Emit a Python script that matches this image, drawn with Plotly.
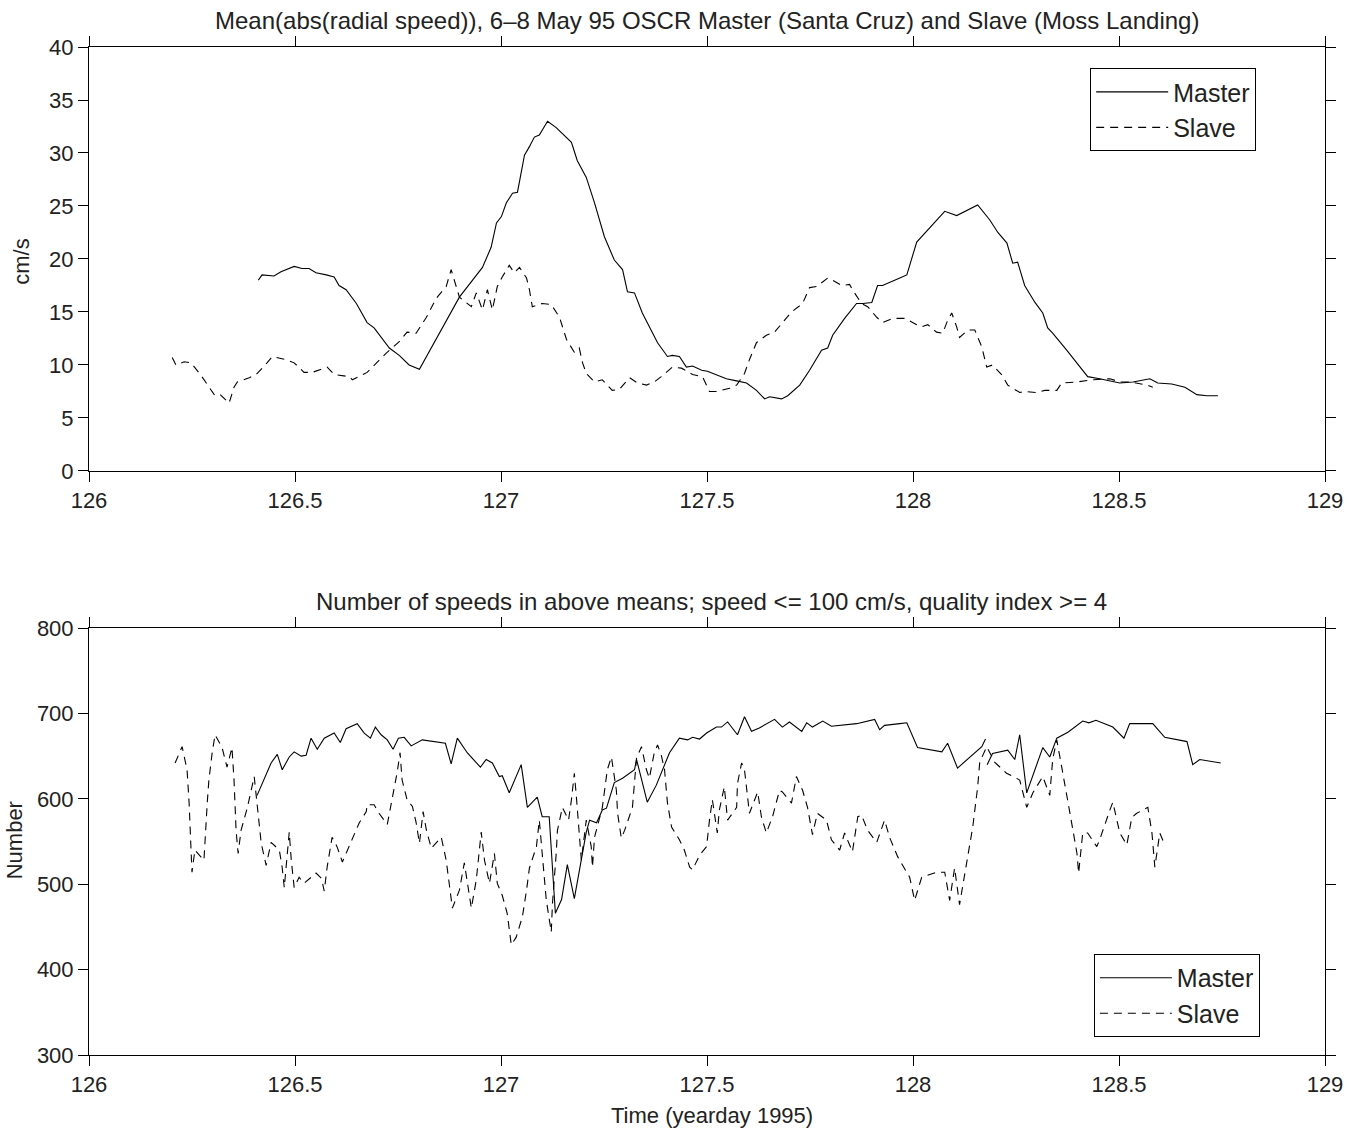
import plotly.graph_objects as go
from plotly.subplots import make_subplots

# ---- Top panel: mean |radial speed| (cm/s) ----
top_master_t = [126.411, 126.420, 126.449, 126.466, 126.498, 126.517, 126.534, 126.551, 126.576, 126.595,
                126.607, 126.624, 126.649, 126.675, 126.692, 126.712, 126.729, 126.753, 126.777, 126.802,
                126.899, 126.955, 126.976, 126.989, 127.001, 127.013, 127.028, 127.040, 127.057, 127.069,
                127.081, 127.093, 127.105, 127.113, 127.134, 127.159, 127.171, 127.185, 127.207, 127.227,
                127.251, 127.275, 127.295, 127.307, 127.324, 127.343, 127.368, 127.380, 127.404, 127.416,
                127.433, 127.450, 127.465, 127.487, 127.501, 127.513, 127.547, 127.572, 127.596, 127.620,
                127.640, 127.652, 127.681, 127.696, 127.725, 127.749, 127.778, 127.793, 127.805, 127.834,
                127.863, 127.878, 127.900, 127.914, 127.926, 127.968, 127.985, 128.009, 128.040, 128.077,
                128.106, 128.157, 128.186, 128.206, 128.228, 128.242, 128.254, 128.271, 128.296, 128.315,
                128.327, 128.339, 128.373, 128.405, 128.424, 128.453, 128.502, 128.534, 128.575, 128.594,
                128.628, 128.660, 128.689, 128.713, 128.740]
top_master_v = [18.0, 18.5, 18.4, 18.8, 19.3, 19.1, 19.1, 18.7, 18.5, 18.3,
                17.5, 17.1, 15.8, 14.0, 13.5, 12.5, 11.6, 10.9, 10.0, 9.6,
                16.4, 19.2, 21.1, 23.4, 24.0, 25.3, 26.2, 26.3, 29.8, 30.6,
                31.5, 31.7, 32.5, 33.0, 32.4, 31.5, 31.0, 29.3, 27.7, 25.3,
                22.1, 19.9, 19.0, 16.9, 16.8, 14.9, 13.0, 12.1, 10.8, 10.9,
                10.8, 9.8, 9.9, 9.5, 9.4, 9.2, 8.7, 8.5, 8.3, 7.6,
                6.8, 7.0, 6.8, 7.1, 8.1, 9.5, 11.4, 11.6, 12.8, 14.4,
                15.8, 15.8, 15.9, 17.5, 17.5, 18.2, 18.5, 21.6, 22.9, 24.5,
                24.1, 25.1, 23.7, 22.5, 21.5, 19.6, 19.7, 17.5, 15.9, 14.9,
                13.5, 13.0, 11.4, 9.8, 8.9, 8.7, 8.3, 8.4, 8.7, 8.3,
                8.2, 7.9, 7.2, 7.1, 7.1]

top_slave_t = [126.202, 126.211, 126.231, 126.248, 126.274, 126.284, 126.304, 126.316, 126.340, 126.352,
               126.360, 126.389, 126.406, 126.432, 126.445, 126.479, 126.498, 126.522, 126.542, 126.578,
               126.595, 126.632, 126.639, 126.675, 126.692, 126.721, 126.753, 126.772, 126.794, 126.819,
               126.843, 126.867, 126.879, 126.899, 126.928, 126.940, 126.955, 126.967, 126.979, 126.991,
               127.003, 127.020, 127.032, 127.045, 127.062, 127.069, 127.076, 127.100, 127.122, 127.142,
               127.159, 127.178, 127.190, 127.198, 127.207, 127.227, 127.246, 127.270, 127.287, 127.312,
               127.331, 127.353, 127.372, 127.389, 127.416, 127.438, 127.465, 127.489, 127.506, 127.523,
               127.555, 127.572, 127.591, 127.603, 127.620, 127.644, 127.664, 127.688, 127.705, 127.732,
               127.749, 127.766, 127.793, 127.805, 127.827, 127.846, 127.853, 127.875, 127.890, 127.912,
               127.926, 127.951, 127.980, 128.009, 128.021, 128.036, 128.057, 128.072, 128.084, 128.094,
               128.106, 128.113, 128.133, 128.150, 128.167, 128.179, 128.193, 128.215, 128.230, 128.259,
               128.271, 128.300, 128.320, 128.349, 128.361, 128.398, 128.436, 128.478, 128.502, 128.526,
               128.568, 128.582]
top_slave_v = [10.7, 10.0, 10.3, 10.2, 8.9, 8.3, 7.2, 7.3, 6.4, 7.9,
               8.4, 8.8, 9.1, 10.2, 10.8, 10.5, 10.2, 9.3, 9.3, 9.8,
               9.1, 8.9, 8.6, 9.3, 10.0, 11.1, 12.2, 13.1, 13.0, 14.5,
               16.3, 17.4, 19.0, 16.4, 15.5, 16.8, 15.2, 17.1, 15.2, 17.4,
               18.3, 19.4, 18.7, 19.2, 18.2, 17.1, 15.5, 15.8, 15.7, 14.5,
               12.4, 11.2, 11.6, 10.2, 9.2, 8.4, 8.6, 7.6, 7.7, 8.8,
               8.3, 8.1, 8.4, 8.9, 9.8, 9.7, 9.1, 8.9, 7.5, 7.5,
               7.8, 8.1, 9.2, 10.5, 12.1, 12.8, 13.1, 14.2, 15.0, 15.8,
               17.3, 17.4, 18.2, 18.0, 17.5, 17.6, 17.1, 15.8, 15.5, 14.5,
               14.0, 14.4, 14.4, 13.8, 13.6, 13.8, 13.1, 13.0, 14.2, 14.9,
               13.6, 12.6, 13.3, 13.3, 11.7, 9.8, 10.0, 9.1, 8.1, 7.4,
               7.5, 7.4, 7.6, 7.6, 8.3, 8.4, 8.6, 8.7, 8.4, 8.4,
               8.1, 7.9]

# ---- Bottom panel: number of speeds ----
bot_master_t = [126.408, 126.430, 126.442, 126.457, 126.469, 126.486, 126.498, 126.515, 126.527, 126.539,
                126.554, 126.571, 126.595, 126.610, 126.624, 126.651, 126.668, 126.683, 126.695, 126.709,
                126.724, 126.738, 126.751, 126.765, 126.782, 126.809, 126.865, 126.879, 126.894, 126.918,
                126.950, 126.964, 126.979, 126.996, 127.003, 127.020, 127.049, 127.064, 127.088, 127.100,
                127.117, 127.132, 127.147, 127.161, 127.178, 127.207, 127.215, 127.232, 127.246, 127.256,
                127.275, 127.295, 127.324, 127.329, 127.355, 127.377, 127.409, 127.433, 127.453, 127.465,
                127.482, 127.499, 127.523, 127.535, 127.550, 127.574, 127.591, 127.608, 127.627, 127.664,
                127.683, 127.700, 127.730, 127.742, 127.756, 127.781, 127.802, 127.863, 127.907, 127.919,
                127.931, 127.968, 127.985, 128.011, 128.070, 128.084, 128.108, 128.167, 128.176, None,
                128.180, 128.193, 128.230, 128.247, 128.259, 128.276, 128.315, 128.332, 128.349, 128.376,
                128.412, 128.427, 128.444, 128.485, 128.512, 128.526, 128.582, 128.611, 128.665, 128.679,
                128.696, 128.747]
bot_master_v = [604, 628, 642, 652, 634, 649, 655, 650, 651, 671,
                658, 671, 677, 666, 682, 688, 677, 671, 684, 675,
                669, 658, 671, 672, 662, 669, 665, 641, 671, 654,
                637, 646, 642, 626, 627, 607, 640, 590, 602, 579,
                579, 466, 482, 523, 483, 561, 575, 572, 587, 589,
                619, 624, 634, 646, 596, 616, 654, 671, 669, 672,
                670, 677, 684, 684, 690, 675, 696, 679, 683, 693,
                684, 690, 679, 689, 684, 691, 685, 688, 693, 681,
                686, 688, 689, 660, 655, 665, 636, 661, 670, None,
                640, 653, 657, 646, 675, 607, 660, 649, 671, 678,
                691, 689, 692, 684, 671, 688, 688, 672, 667, 640,
                646, 642]

bot_slave_t = [126.209, 126.226, 126.238, 126.243, 126.248, 126.250, 126.257, 126.279, 126.287, 126.291,
               126.299, 126.306, 126.323, 126.335, 126.347, 126.352, 126.357, 126.362, 126.369, 126.384,
               126.401, 126.408, 126.418, 126.430, 126.442, 126.462, 126.469, 126.474, 126.486, 126.491,
               126.498, 126.510, 126.522, 126.551, 126.564, 126.571, 126.578, 126.590, 126.602, 126.615,
               126.644, 126.656, 126.673, 126.675, 126.692, 126.704, 126.724, 126.736, 126.748, 126.755,
               126.760, 126.772, 126.785, 126.794, 126.802, 126.811, 126.819, 126.831, 126.855, 126.867,
               126.874, 126.882, 126.899, 126.911, 126.928, 126.940, 126.952, 126.960, 126.972, 126.984,
               126.991, 127.003, 127.015, 127.025, 127.037, 127.052, 127.062, 127.069, 127.086, 127.093,
               127.100, 127.110, 127.122, 127.125, 127.134, 127.137, 127.149, 127.164, 127.171, 127.178,
               127.183, 127.190, 127.195, 127.207, 127.219, 127.222, 127.227, 127.246, 127.258, 127.268,
               127.280, 127.283, 127.292, 127.300, 127.319, 127.329, 127.341, 127.353, 127.360, 127.372,
               127.380, 127.389, 127.397, 127.404, 127.414, 127.433, 127.445, 127.458, 127.465, 127.482,
               127.499, 127.506, 127.513, 127.525, 127.530, 127.542, 127.550, 127.572, 127.574, 127.584,
               127.591, 127.603, 127.615, 127.623, 127.632, 127.644, 127.659, 127.676, 127.683, 127.705,
               127.717, 127.732, 127.744, 127.756, 127.768, 127.790, 127.802, 127.822, 127.834, 127.853,
               127.866, 127.875, 127.890, 127.912, 127.931, 127.943, 127.963, 127.992, 128.004, 128.021,
               128.057, 128.077, 128.089, 128.101, 128.113, 128.130, 128.145, 128.157, 128.162, 128.179,
               128.198, 128.227, 128.242, 128.259, 128.276, 128.291, 128.315, 128.332, 128.339, 128.349,
               128.361, 128.373, 128.381, 128.398, 128.402, 128.412, 128.424, 128.446, 128.453, 128.478,
               128.485, 128.502, 128.519, 128.531, 128.543, 128.570, 128.580, 128.587, 128.599, 128.611]
bot_slave_v = [642, 661, 634, 595, 536, 514, 540, 528, 595, 622,
               654, 675, 660, 637, 660, 622, 563, 536, 563, 589,
               626, 590, 548, 522, 549, 540, 519, 496, 561, 528,
               496, 508, 501, 513, 507, 492, 520, 555, 544, 526,
               560, 572, 585, 593, 593, 583, 570, 599, 631, 654,
               622, 599, 591, 572, 548, 585, 563, 542, 555, 528,
               501, 472, 493, 525, 472, 505, 561, 528, 501, 536,
               501, 487, 466, 429, 438, 462, 493, 519, 544, 575,
               536, 481, 444, 478, 536, 563, 590, 575, 599, 630,
               602, 560, 528, 575, 544, 520, 555, 590, 634, 649,
               610, 583, 554, 563, 590, 648, 661, 634, 624, 654,
               663, 651, 634, 595, 567, 552, 540, 520, 517, 534,
               544, 575, 599, 560, 587, 614, 575, 590, 618, 642,
               634, 583, 599, 608, 579, 560, 579, 610, 608, 595,
               626, 610, 590, 558, 583, 575, 552, 540, 560, 538,
               579, 581, 563, 549, 575, 555, 532, 508, 481, 508,
               514, 514, 481, 519, 476, 525, 567, 614, 643, 661,
               643, 630, 626, 622, 590, 607, 626, 604, 646, 669,
               637, 602, 583, 536, 513, 560, 560, 544, 552, 587,
               596, 560, 546, 578, 583, 590, 560, 520, 560, 546]

x_ticks = [126, 126.5, 127, 127.5, 128, 128.5, 129]
x_tick_text = ["126", "126.5", "127", "127.5", "128", "128.5", "129"]
top_y_ticks = [0, 5, 10, 15, 20, 25, 30, 35, 40]
bot_y_ticks = [300, 400, 500, 600, 700, 800]

title_top = "Mean(abs(radial speed)), 6\u20138 May 95 OSCR Master (Santa Cruz) and Slave (Moss Landing)"
title_bot = "Number of speeds in above means; speed <= 100 cm/s, quality index >= 4"

FONT = "Liberation Sans, Arial, Helvetica, sans-serif"
TXT = "#222"
DASH = "8px,6px"

fig = make_subplots(rows=2, cols=1, vertical_spacing=0.155)

fig.add_trace(go.Scatter(x=top_master_t, y=top_master_v, mode="lines", name="Master",
                         line=dict(color="black", width=1.1), legend="legend"), row=1, col=1)
fig.add_trace(go.Scatter(x=top_slave_t, y=top_slave_v, mode="lines", name="Slave",
                         line=dict(color="black", width=1.1, dash=DASH), legend="legend"), row=1, col=1)
fig.add_trace(go.Scatter(x=bot_master_t, y=bot_master_v, mode="lines", name="Master",
                         connectgaps=False,
                         line=dict(color="black", width=1.1), legend="legend2"), row=2, col=1)
fig.add_trace(go.Scatter(x=bot_slave_t, y=bot_slave_v, mode="lines", name="Slave",
                         line=dict(color="black", width=1.1, dash=DASH), legend="legend2"), row=2, col=1)

axis_common = dict(showline=True, linecolor="black", linewidth=1, mirror="ticks",
                   ticks="outside", ticklen=10, tickcolor="black", tickwidth=1,
                   showgrid=False, zeroline=False, automargin=False,
                   tickfont=dict(family=FONT, size=22, color=TXT))

fig.update_xaxes(range=[126, 129], tickvals=x_ticks, ticktext=x_tick_text, **axis_common)
fig.update_yaxes(**axis_common)
fig.update_yaxes(range=[0, 40], tickvals=top_y_ticks, row=1, col=1)
fig.update_yaxes(range=[300, 800], tickvals=bot_y_ticks, row=2, col=1)

legend_common = dict(xanchor="left", yanchor="top", bordercolor="black", borderwidth=1,
                     bgcolor="white", font=dict(family=FONT, size=25, color=TXT),
                     itemwidth=72, tracegroupgap=0)

fig.update_layout(
    width=1349, height=1135,
    margin=dict(l=89, r=24, t=47, b=80),
    paper_bgcolor="white", plot_bgcolor="white",
    font=dict(family=FONT, size=22, color=TXT),
    legend=dict(x=0.810, y=0.979, **legend_common),
    legend2=dict(x=0.813, y=0.1002, **legend_common),
    annotations=[
        dict(text=title_top, x=0.5, y=1.0, xref="paper", yref="paper", yanchor="bottom",
             yshift=11, showarrow=False, font=dict(family=FONT, size=24, color=TXT)),
        dict(text=title_bot, x=0.504, y=0.4236, xref="paper", yref="paper", yanchor="bottom",
             yshift=11, showarrow=False, font=dict(family=FONT, size=24, color=TXT)),
        dict(text="cm/s", x=0, y=0.787, xref="paper", yref="paper", xanchor="center",
             yanchor="middle", xshift=-67, textangle=-90, showarrow=False,
             font=dict(family=FONT, size=22, color=TXT)),
        dict(text="Number", x=0, y=0.213, xref="paper", yref="paper", xanchor="center",
             yanchor="middle", xshift=-75, textangle=-90, showarrow=False,
             font=dict(family=FONT, size=22, color=TXT)),
        dict(text="Time (yearday 1995)", x=0.504, y=0, xref="paper", yref="paper",
             xanchor="center", yanchor="middle", yshift=-60, showarrow=False,
             font=dict(family=FONT, size=22, color=TXT)),
    ],
)
fig.update_layout(yaxis=dict(domain=[0.5794, 1.0]), yaxis2=dict(domain=[0.0, 0.4236]))

fig.write_html("out.html", config={"displayModeBar": False},
               post_script="document.body.style.margin='0';document.body.style.overflow='hidden';")
